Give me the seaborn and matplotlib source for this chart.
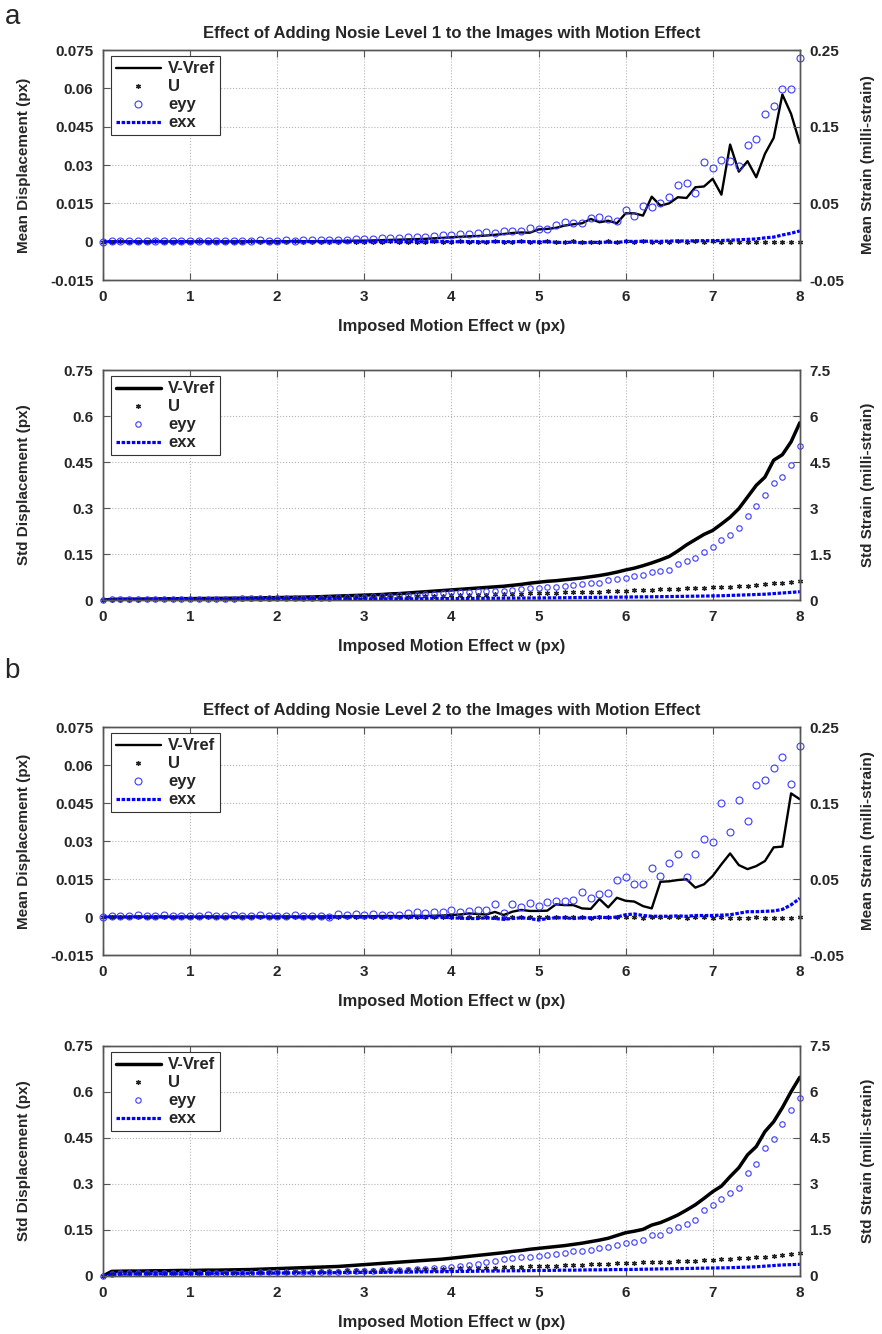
import numpy as np
import seaborn as sns
import matplotlib
matplotlib.use("Agg")
import matplotlib.pyplot as plt

# imposed motion effect w (px), 0 to 8 in steps of 0.1
w = np.linspace(0, 8, 81)

# ---- noise level 1, mean ----
vv1 = [
    0.0000, 0.0001, 0.0001, 0.0001, 0.0001, 0.0001, 0.0001, 0.0001, 0.0001, 0.0001,
    0.0001, 0.0001, 0.0001, 0.0001, 0.0001, 0.0001, 0.0001, 0.0002, 0.0002, 0.0002,
    0.0002, 0.0002, 0.0002, 0.0002, 0.0002, 0.0002, 0.0003, 0.0003, 0.0003, 0.0004,
    0.0004, 0.0005, 0.0006, 0.0007, 0.0008, 0.0009, 0.0010, 0.0011, 0.0013, 0.0015,
    0.0017, 0.0019, 0.0021, 0.0022, 0.0024, 0.0027, 0.0030, 0.0034, 0.0036, 0.0035,
    0.0048, 0.0050, 0.0054, 0.0063, 0.0068, 0.0072, 0.0089, 0.0076, 0.0082, 0.0072,
    0.0111, 0.0111, 0.0102, 0.0176, 0.0141, 0.0150, 0.0174, 0.0171, 0.0213, 0.0216,
    0.0246, 0.0184, 0.0380, 0.0274, 0.0315, 0.0252, 0.0344, 0.0406, 0.0576, 0.0500,
    0.0386]
u1 = [
    0.0000, 0.0000, 0.0001, 0.0000, -0.0001, 0.0000, 0.0001, 0.0000, 0.0000, -0.0001,
    0.0000, 0.0001, 0.0000, 0.0000, -0.0001, 0.0000, 0.0000, 0.0001, 0.0000, 0.0000,
    -0.0001, 0.0000, 0.0001, 0.0000, 0.0000, 0.0000, -0.0001, 0.0000, 0.0001, 0.0000,
    0.0000, -0.0001, 0.0000, 0.0001, 0.0000, 0.0000, -0.0001, 0.0000, 0.0001, 0.0000,
    0.0000, 0.0001, 0.0000, -0.0001, 0.0000, 0.0001, 0.0000, 0.0000, 0.0001, -0.0001,
    0.0000, 0.0001, 0.0000, 0.0000, 0.0001, 0.0000, -0.0001, 0.0000, 0.0001, 0.0000,
    0.0001, 0.0000, 0.0001, 0.0000, -0.0001, 0.0000, 0.0001, 0.0000, 0.0001, 0.0000,
    0.0001, 0.0000, -0.0001, -0.0001, -0.0002, -0.0001, -0.0002, -0.0002, -0.0001, -0.0002,
    -0.0001]
eyy1 = [
    0.0000, 0.0005, 0.0008, 0.0005, 0.0010, 0.0008, 0.0010, 0.0006, 0.0012, 0.0010,
    0.0008, 0.0012, 0.0010, 0.0014, 0.0012, 0.0010, 0.0015, 0.0012, 0.0016, 0.0014,
    0.0015, 0.0018, 0.0014, 0.0016, 0.0020, 0.0018, 0.0022, 0.0025, 0.0024, 0.0030,
    0.0035, 0.0038, 0.0042, 0.0045, 0.0050, 0.0055, 0.0060, 0.0065, 0.0070, 0.0090,
    0.0085, 0.0100, 0.0095, 0.0110, 0.0120, 0.0115, 0.0135, 0.0144, 0.0144, 0.0179,
    0.0166, 0.0161, 0.0218, 0.0253, 0.0248, 0.0248, 0.0309, 0.0327, 0.0296, 0.0274,
    0.0414, 0.0340, 0.0462, 0.0449, 0.0505, 0.0588, 0.0745, 0.0767, 0.0632, 0.1041,
    0.0959, 0.1059, 0.1050, 0.0993, 0.1264, 0.1338, 0.1669, 0.1765, 0.1996, 0.1996,
    0.2401]
exx1 = [
    0.0000, 0.0002, -0.0002, 0.0001, 0.0000, -0.0003, 0.0002, 0.0000, -0.0001, 0.0002,
    0.0000, -0.0002, 0.0001, 0.0003, -0.0001, 0.0000, 0.0002, -0.0002, 0.0000, 0.0001,
    -0.0003, 0.0000, 0.0002, -0.0001, 0.0001, 0.0000, -0.0002, 0.0002, 0.0000, -0.0001,
    0.0001, -0.0002, 0.0000, 0.0002, -0.0001, 0.0000, 0.0001, -0.0003, 0.0000, 0.0002,
    0.0000, -0.0001, 0.0001, 0.0000, -0.0002, 0.0001, 0.0000, -0.0001, 0.0002, 0.0000,
    -0.0002, 0.0000, -0.0008, -0.0012, -0.0005, -0.0015, -0.0008, -0.0010, -0.0005, -0.0012,
    0.0004, 0.0003, 0.0005, 0.0006, 0.0004, 0.0008, 0.0010, 0.0009, 0.0012, 0.0013,
    0.0013, 0.0015, 0.0020, 0.0025, 0.0030, 0.0035, 0.0050, 0.0060, 0.0087, 0.0110,
    0.0140]

# ---- noise level 1, std ----
vv2 = [
    0.000, 0.002, 0.003, 0.003, 0.003, 0.0035, 0.0035, 0.004, 0.004, 0.0045,
    0.0045, 0.005, 0.005, 0.0055, 0.0055, 0.006, 0.006, 0.0065, 0.007, 0.0075,
    0.008, 0.0085, 0.009, 0.0095, 0.010, 0.011, 0.012, 0.013, 0.014, 0.015,
    0.016, 0.017, 0.018, 0.020, 0.021, 0.023, 0.025, 0.027, 0.029, 0.031,
    0.033, 0.035, 0.037, 0.039, 0.041, 0.043, 0.045, 0.048, 0.051, 0.055,
    0.058, 0.061, 0.063, 0.066, 0.069, 0.072, 0.076, 0.080, 0.085, 0.091,
    0.098, 0.104, 0.112, 0.121, 0.131, 0.142, 0.160, 0.180, 0.197, 0.214,
    0.227, 0.248, 0.270, 0.298, 0.336, 0.374, 0.401, 0.456, 0.474, 0.516,
    0.578]
u2 = [
    0.000, 0.001, 0.0012, 0.0014, 0.0016, 0.0018, 0.002, 0.0022, 0.0024, 0.0026,
    0.0028, 0.003, 0.0032, 0.0034, 0.0036, 0.0038, 0.004, 0.0043, 0.0046, 0.0049,
    0.0052, 0.0055, 0.0058, 0.0062, 0.0066, 0.007, 0.0074, 0.0078, 0.0082, 0.0086,
    0.009, 0.0095, 0.010, 0.0105, 0.011, 0.0115, 0.012, 0.0127, 0.0134, 0.0141,
    0.0148, 0.0155, 0.0162, 0.0169, 0.0176, 0.0183, 0.019, 0.0198, 0.0206, 0.0214,
    0.0222, 0.023, 0.0238, 0.0246, 0.0254, 0.0262, 0.027, 0.0278, 0.0286, 0.0294,
    0.031, 0.032, 0.033, 0.034, 0.035, 0.036, 0.037, 0.038, 0.039, 0.040,
    0.041, 0.042, 0.044, 0.045, 0.047, 0.050, 0.052, 0.054, 0.057, 0.060,
    0.063]
eyy2 = [
    0.00, 0.02, 0.025, 0.025, 0.03, 0.03, 0.03, 0.035, 0.035, 0.035,
    0.04, 0.04, 0.04, 0.045, 0.045, 0.045, 0.05, 0.05, 0.05, 0.055,
    0.055, 0.06, 0.06, 0.065, 0.07, 0.075, 0.08, 0.085, 0.09, 0.10,
    0.11, 0.12, 0.13, 0.14, 0.15, 0.16, 0.175, 0.19, 0.21, 0.23,
    0.25, 0.26, 0.27, 0.28, 0.29, 0.30, 0.305, 0.33, 0.35, 0.38,
    0.39, 0.41, 0.44, 0.47, 0.49, 0.52, 0.55, 0.56, 0.65, 0.70,
    0.71, 0.80, 0.83, 0.92, 0.94, 0.99, 1.16, 1.26, 1.36, 1.58,
    1.72, 1.97, 2.11, 2.35, 2.73, 3.06, 3.41, 3.82, 4.01, 4.39,
    5.01]
exx2 = [
    0.000, 0.005, 0.008, 0.010, 0.010, 0.012, 0.012, 0.013, 0.014, 0.015,
    0.015, 0.016, 0.017, 0.018, 0.019, 0.020, 0.021, 0.022, 0.023, 0.024,
    0.025, 0.026, 0.027, 0.028, 0.029, 0.030, 0.031, 0.032, 0.033, 0.034,
    0.035, 0.036, 0.037, 0.038, 0.039, 0.040, 0.041, 0.042, 0.044, 0.046,
    0.048, 0.050, 0.052, 0.054, 0.056, 0.058, 0.060, 0.062, 0.064, 0.066,
    0.068, 0.070, 0.073, 0.076, 0.079, 0.082, 0.085, 0.088, 0.091, 0.094,
    0.097, 0.100, 0.103, 0.106, 0.110, 0.114, 0.118, 0.122, 0.126, 0.130,
    0.135, 0.140, 0.150, 0.160, 0.170, 0.180, 0.190, 0.210, 0.230, 0.250,
    0.270]

# ---- noise level 2, mean ----
vv3 = [
    0.0000, 0.0001, 0.0001, 0.0001, 0.0002, 0.0001, 0.0001, 0.0002, 0.0001, 0.0001,
    0.0001, 0.0001, 0.0002, 0.0001, 0.0001, 0.0002, 0.0001, 0.0002, 0.0002, 0.0001,
    0.0002, 0.0002, 0.0001, 0.0002, 0.0002, 0.0002, 0.0003, 0.0002, 0.0003, 0.0003,
    0.0003, 0.0003, 0.0004, 0.0004, 0.0003, 0.0004, 0.0005, 0.0004, 0.0005, 0.0006,
    0.0008, 0.0010, 0.0014, 0.0012, 0.0010, 0.0020, 0.0008, 0.0021, 0.0028, 0.0024,
    0.0024, 0.0025, 0.0050, 0.0047, 0.0047, 0.0034, 0.0032, 0.0071, 0.0038, 0.0076,
    0.0064, 0.0061, 0.0043, 0.0034, 0.0139, 0.0141, 0.0146, 0.0149, 0.0116, 0.0129,
    0.0162, 0.0208, 0.0251, 0.0205, 0.0189, 0.0201, 0.0221, 0.0275, 0.0278, 0.0488,
    0.0465]
u3 = [
    0.0000, 0.0000, -0.0001, 0.0000, 0.0001, 0.0000, 0.0000, -0.0001, 0.0000, 0.0001,
    0.0000, 0.0000, -0.0001, 0.0000, 0.0000, 0.0001, 0.0000, -0.0001, 0.0000, 0.0000,
    0.0001, 0.0000, 0.0000, -0.0001, 0.0000, 0.0001, 0.0000, 0.0000, -0.0001, 0.0000,
    0.0000, 0.0001, 0.0000, -0.0001, 0.0000, 0.0000, 0.0001, 0.0000, -0.0001, 0.0000,
    0.0000, 0.0001, -0.0001, 0.0000, 0.0001, 0.0000, -0.0002, 0.0000, 0.0001, -0.0001,
    0.0000, -0.0001, 0.0001, 0.0000, -0.0001, 0.0000, -0.0002, 0.0001, -0.0001, 0.0000,
    -0.0001, 0.0000, -0.0002, 0.0000, 0.0001, -0.0001, 0.0000, -0.0002, -0.0001, 0.0000,
    -0.0002, -0.0001, -0.0003, -0.0002, -0.0002, -0.0001, -0.0005, -0.0005, -0.0005, -0.0004,
    0.0001]
eyy3 = [
    0.0000, 0.0010, 0.0015, 0.0010, 0.0020, 0.0015, 0.0010, 0.0020, 0.0015, 0.0010,
    0.0015, 0.0010, 0.0020, 0.0015, 0.0010, 0.0020, 0.0015, 0.0010, 0.0020, 0.0015,
    0.0010, 0.0015, 0.0020, 0.0015, 0.0013, 0.0013, 0.0005, 0.0035, 0.0030, 0.0035,
    0.0025, 0.0035, 0.0030, 0.0030, 0.0030, 0.0048, 0.0070, 0.0048, 0.0060, 0.0070,
    0.0092, 0.0060, 0.0083, 0.0092, 0.0092, 0.0170, 0.0050, 0.0167, 0.0136, 0.0180,
    0.0149, 0.0202, 0.0210, 0.0215, 0.0224, 0.0333, 0.0246, 0.0303, 0.0311, 0.0487,
    0.0531, 0.0434, 0.0430, 0.0640, 0.0544, 0.0706, 0.0825, 0.0531, 0.0825, 0.1026,
    0.0982, 0.1504, 0.1114, 0.1540, 0.1263, 0.1737, 0.1803, 0.1965, 0.2101, 0.1750,
    0.2250]
exx3 = [
    0.0000, 0.0003, -0.0002, 0.0001, 0.0000, -0.0003, 0.0002, 0.0000, -0.0002, 0.0001,
    0.0002, -0.0001, 0.0000, 0.0002, -0.0003, 0.0000, 0.0001, -0.0002, 0.0000, 0.0002,
    -0.0001, 0.0000, 0.0002, -0.0002, 0.0000, 0.0001, -0.0003, 0.0000, 0.0002, -0.0001,
    0.0000, -0.0002, 0.0001, -0.0003, 0.0000, -0.0001, -0.0004, -0.0002, 0.0000, -0.0002,
    -0.0010, -0.0015, -0.0020, -0.0020, -0.0010, -0.0020, -0.0030, -0.0020, -0.0010, -0.0020,
    -0.0040, -0.0020, -0.0010, -0.0010, -0.0020, -0.0010, -0.0010, 0.0000, -0.0010, 0.0000,
    0.0030, 0.0040, 0.0020, 0.0010, 0.0010, 0.0010, 0.0015, 0.0010, 0.0020, 0.0020,
    0.0020, 0.0025, 0.0030, 0.0050, 0.0070, 0.0070, 0.0075, 0.0080, 0.0100, 0.0160,
    0.0246]

# ---- noise level 2, std ----
vv4 = [
    0.000, 0.015, 0.0155, 0.016, 0.016, 0.0165, 0.017, 0.017, 0.0175, 0.018,
    0.018, 0.0185, 0.019, 0.019, 0.0195, 0.020, 0.0205, 0.021, 0.022, 0.023,
    0.024, 0.025, 0.026, 0.027, 0.028, 0.029, 0.030, 0.031, 0.033, 0.035,
    0.037, 0.039, 0.041, 0.043, 0.045, 0.047, 0.049, 0.051, 0.053, 0.055,
    0.058, 0.061, 0.064, 0.067, 0.070, 0.073, 0.076, 0.080, 0.083, 0.087,
    0.090, 0.093, 0.096, 0.099, 0.103, 0.107, 0.112, 0.117, 0.123, 0.132,
    0.141, 0.146, 0.152, 0.166, 0.174, 0.186, 0.199, 0.215, 0.232, 0.253,
    0.275, 0.293, 0.324, 0.353, 0.395, 0.422, 0.471, 0.503, 0.549, 0.601,
    0.648]
u4 = [
    0.000, 0.008, 0.0085, 0.009, 0.009, 0.0095, 0.0095, 0.010, 0.010, 0.0105,
    0.0105, 0.011, 0.011, 0.0115, 0.0115, 0.012, 0.012, 0.0125, 0.013, 0.0135,
    0.014, 0.0145, 0.015, 0.0155, 0.016, 0.0165, 0.017, 0.0175, 0.018, 0.0185,
    0.019, 0.0195, 0.020, 0.0205, 0.021, 0.0215, 0.022, 0.0225, 0.023, 0.0235,
    0.024, 0.0245, 0.025, 0.0255, 0.026, 0.027, 0.028, 0.029, 0.030, 0.031,
    0.032, 0.033, 0.034, 0.035, 0.036, 0.037, 0.038, 0.039, 0.040, 0.041,
    0.042, 0.043, 0.044, 0.045, 0.046, 0.047, 0.048, 0.049, 0.050, 0.051,
    0.053, 0.054, 0.056, 0.057, 0.059, 0.061, 0.063, 0.065, 0.068, 0.071,
    0.075]
eyy4 = [
    0.00, 0.08, 0.085, 0.085, 0.09, 0.09, 0.09, 0.095, 0.095, 0.095,
    0.10, 0.10, 0.10, 0.105, 0.105, 0.11, 0.11, 0.11, 0.115, 0.115,
    0.12, 0.12, 0.125, 0.13, 0.13, 0.135, 0.14, 0.145, 0.15, 0.155,
    0.16, 0.17, 0.18, 0.19, 0.20, 0.21, 0.22, 0.23, 0.25, 0.27,
    0.30, 0.33, 0.36, 0.40, 0.44, 0.49, 0.54, 0.59, 0.61, 0.63,
    0.65, 0.68, 0.71, 0.74, 0.80, 0.82, 0.85, 0.90, 0.96, 1.01,
    1.07, 1.10, 1.17, 1.34, 1.32, 1.49, 1.59, 1.70, 1.83, 2.15,
    2.32, 2.50, 2.72, 2.86, 3.37, 3.64, 4.16, 4.47, 4.96, 5.41,
    5.82]
exx4 = [
    0.000, 0.060, 0.060, 0.065, 0.065, 0.070, 0.070, 0.070, 0.075, 0.075,
    0.075, 0.080, 0.080, 0.080, 0.085, 0.085, 0.085, 0.090, 0.090, 0.090,
    0.095, 0.095, 0.100, 0.100, 0.100, 0.105, 0.105, 0.110, 0.110, 0.115,
    0.115, 0.120, 0.120, 0.125, 0.125, 0.130, 0.130, 0.135, 0.140, 0.140,
    0.145, 0.150, 0.150, 0.155, 0.160, 0.160, 0.165, 0.170, 0.170, 0.175,
    0.180, 0.180, 0.185, 0.190, 0.190, 0.195, 0.200, 0.200, 0.205, 0.210,
    0.210, 0.215, 0.220, 0.225, 0.230, 0.235, 0.240, 0.245, 0.250, 0.255,
    0.260, 0.265, 0.270, 0.280, 0.290, 0.300, 0.320, 0.340, 0.360, 0.370,
    0.380]

x_ticks = [0, 1, 2, 3, 4, 5, 6, 7, 8]
mean_ticks = [-0.015, 0, 0.015, 0.03, 0.045, 0.06, 0.075]
mean_labels = ["-0.015", "0", "0.015", "0.03", "0.045", "0.06", "0.075"]
mean_strain_ticks = [-0.05, 0.05, 0.15, 0.25]
mean_strain_labels = ["-0.05", "0.05", "0.15", "0.25"]
std_ticks = [0, 0.15, 0.3, 0.45, 0.6, 0.75]
std_labels = ["0", "0.15", "0.3", "0.45", "0.6", "0.75"]
std_strain_ticks = [0, 1.5, 3, 4.5, 6, 7.5]
std_strain_labels = ["0", "1.5", "3", "4.5", "6", "7.5"]

sns.set_style("ticks")
plt.rcParams["font.family"] = ["Liberation Sans", "DejaVu Sans"]
plt.rcParams["font.weight"] = "bold"
plt.rcParams["axes.labelweight"] = "bold"
plt.rcParams["axes.titleweight"] = "bold"
plt.rcParams["font.size"] = 11

FS = 11
SPINE = "#555555"


def draw_panel(fig, rect, vv, u, eyy, exx, kind, title=None):
    ax = fig.add_axes(rect)
    ax2 = ax.twinx()
    mean = kind == "mean"
    lw_v = 1.7 if mean else 2.5
    ms_o = 5.0 if mean else 3.9

    sns.lineplot(x=w, y=vv, ax=ax, color="black", lw=lw_v, label="V-Vref",
                 legend=False, estimator=None)
    sns.lineplot(x=w, y=u, ax=ax, color="black", linestyle="", marker=(6, 2, 0),
                 markersize=3.6, markeredgecolor="#222222", markeredgewidth=0.9,
                 label="U", legend=False, estimator=None, clip_on=False)
    sns.lineplot(x=w, y=eyy, ax=ax2, color="#3b3bff", linestyle="", marker="o",
                 markersize=ms_o, markerfacecolor="none", markeredgecolor="#3b3bff",
                 markeredgewidth=0.8, label="eyy", legend=False, estimator=None,
                 clip_on=False)
    sns.lineplot(x=w, y=exx, ax=ax2, color="#0000ff", lw=2.3,
                 linestyle=(0, (1.1, 0.5)), label="exx", legend=False, estimator=None)

    ax.set_xlim(0, 8)
    ax.set_xticks(x_ticks)
    ax.set_xticklabels([str(t) for t in x_ticks], fontsize=FS, fontweight="bold")
    if mean:
        ax.set_ylim(-0.015, 0.075)
        ax.set_yticks(mean_ticks)
        ax.set_yticklabels(mean_labels, fontsize=FS, fontweight="bold")
        ax2.set_ylim(-0.05, 0.25)
        ax2.set_yticks(mean_strain_ticks)
        ax2.set_yticklabels(mean_strain_labels, fontsize=FS, fontweight="bold")
        ax.set_ylabel("Mean Displacement (px)", fontsize=FS, fontweight="bold")
        ax2.set_ylabel("Mean Strain (milli-strain)", fontsize=FS, fontweight="bold")
    else:
        ax.set_ylim(0, 0.75)
        ax.set_yticks(std_ticks)
        ax.set_yticklabels(std_labels, fontsize=FS, fontweight="bold")
        ax2.set_ylim(0, 7.5)
        ax2.set_yticks(std_strain_ticks)
        ax2.set_yticklabels(std_strain_labels, fontsize=FS, fontweight="bold")
        ax.set_ylabel("Std Displacement (px)", fontsize=FS, fontweight="bold")
        ax2.set_ylabel("Std Strain (milli-strain)", fontsize=FS, fontweight="bold")
    # fixed label positions so both panel types line up
    ax.yaxis.set_label_coords(-0.103, 0.5)
    ax2.yaxis.set_label_coords(1.088, 0.5)
    ax.set_xlabel("Imposed Motion Effect w (px)", fontsize=11.8, fontweight="bold",
                  labelpad=11)

    ax.grid(True, linestyle=":", color="#b5b5b5", lw=0.8)
    ax.set_axisbelow(True)
    ax.tick_params(axis="x", direction="in", top=True, length=5, color=SPINE, pad=7)
    ax.tick_params(axis="y", direction="in", length=5, color=SPINE, pad=7)
    ax2.tick_params(axis="y", direction="in", length=5, color=SPINE, pad=7)
    for a in (ax, ax2):
        for s in a.spines.values():
            s.set_color(SPINE)
            s.set_linewidth(1.0)

    if title:
        ax.set_title(title, fontsize=12, fontweight="bold", pad=9)

    h1, l1 = ax.get_legend_handles_labels()
    h2, l2 = ax2.get_legend_handles_labels()
    leg = ax2.legend(h1 + h2, l1 + l2, loc="upper left",
                     bbox_to_anchor=(0.011, 0.972), borderaxespad=0,
                     fancybox=False, framealpha=1, edgecolor="#333333",
                     prop={"weight": "bold", "size": 12}, handlelength=2.7,
                     handletextpad=0.45, labelspacing=0.18, borderpad=0.3)
    leg.get_frame().set_linewidth(0.8)
    return ax, ax2


fig = plt.figure(figsize=(8.82, 13.34), dpi=100)

L, W = 0.1168, 0.790
draw_panel(fig, [L, 0.7901, W, 0.1724], vv1, u1, eyy1, exx1, "mean",
           "Effect of Adding Nosie Level 1 to the Images with Motion Effect")
draw_panel(fig, [L, 0.5502, W, 0.1724], vv2, u2, eyy2, exx2, "std")
draw_panel(fig, [L, 0.2841, W, 0.1709], vv3, u3, eyy3, exx3, "mean",
           "Effect of Adding Nosie Level 2 to the Images with Motion Effect")
draw_panel(fig, [L, 0.0435, W, 0.1724], vv4, u4, eyy4, exx4, "std")

fig.text(0.005, 0.997, "a", fontsize=20, fontweight="normal", va="top", ha="left")
fig.text(0.005, 0.507, "b", fontsize=20, fontweight="normal", va="top", ha="left")

fig.savefig("out.png", dpi=100)
